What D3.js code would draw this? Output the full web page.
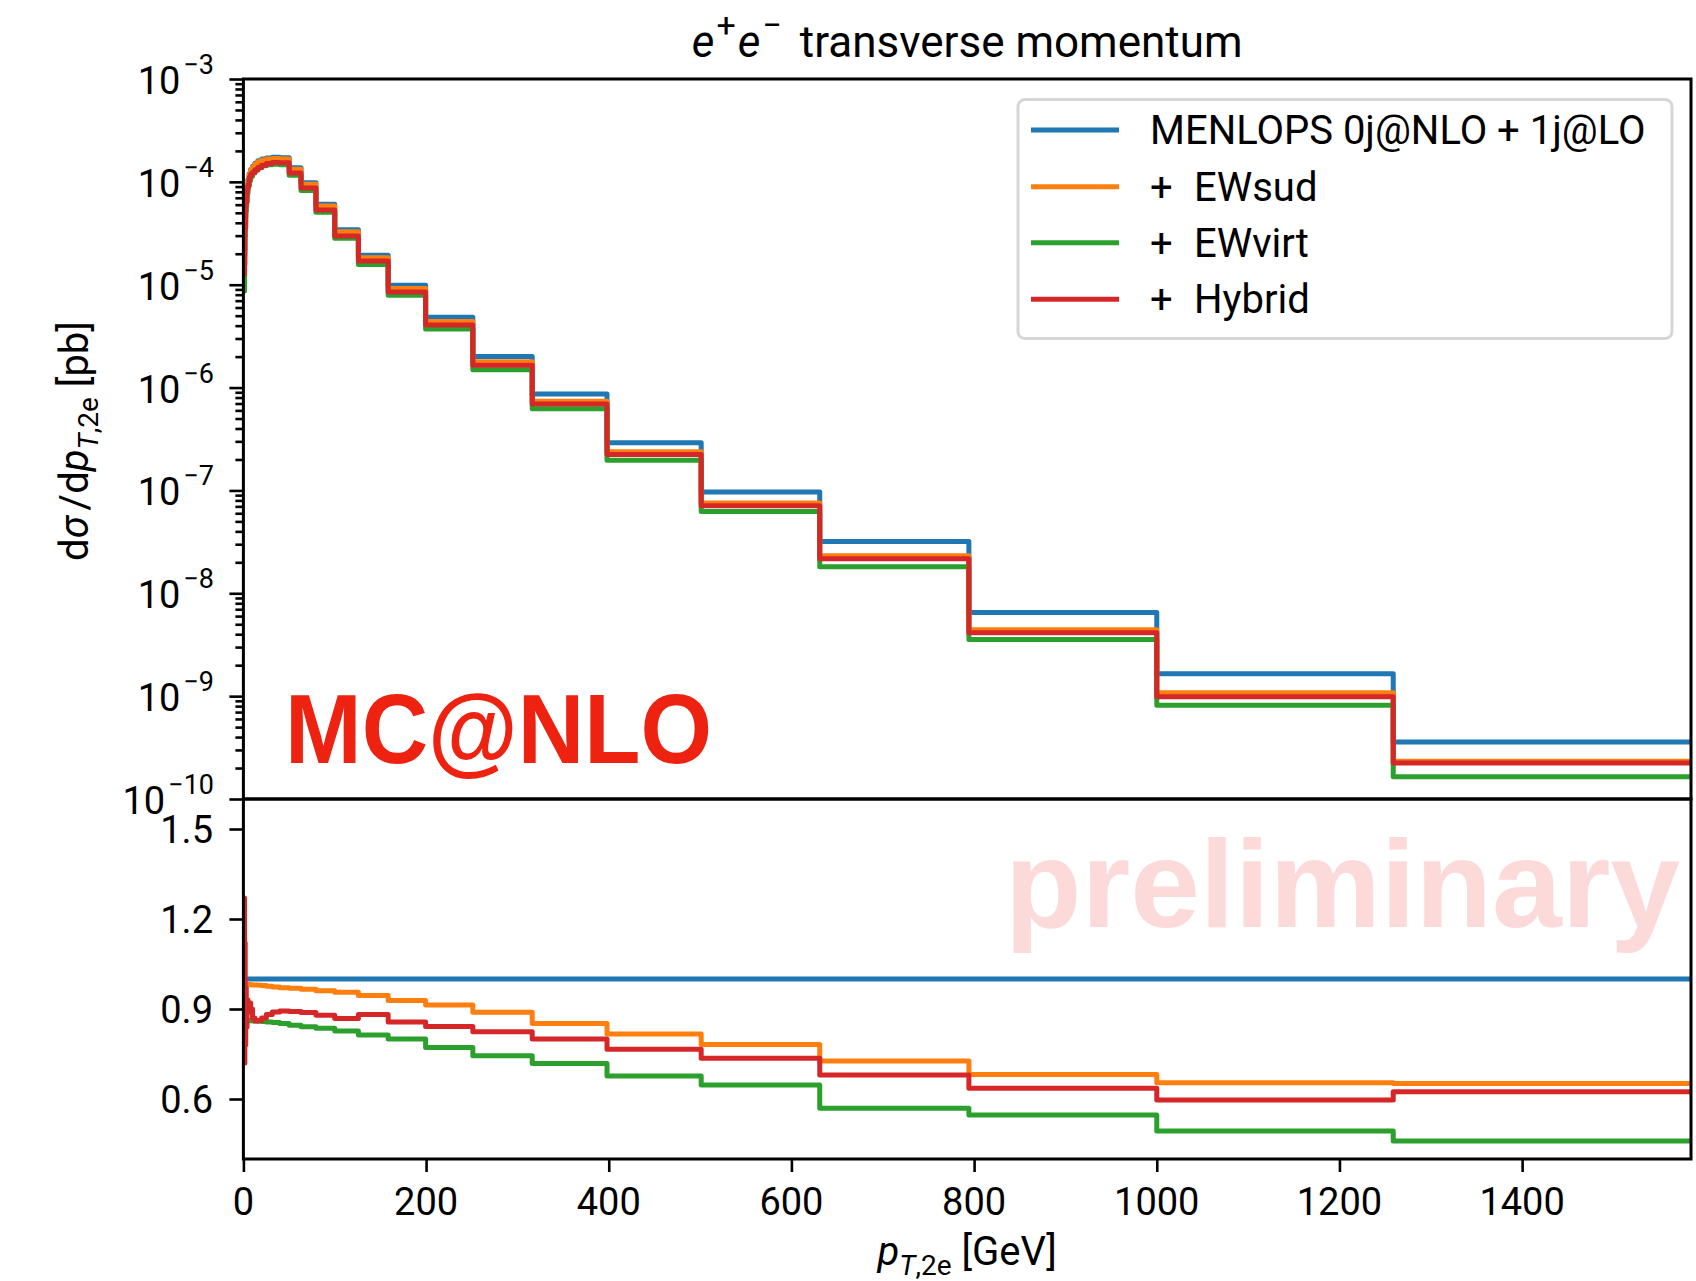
<!DOCTYPE html>
<html>
<head>
<meta charset="utf-8">
<script src="https://cdn.jsdelivr.net/npm/d3@7/dist/d3.min.js"></script>
<style>
body { margin: 0; background: #fff; }
svg text { font-family: Roboto, "DejaVu Sans", sans-serif; fill: #000; }
</style>
</head>
<body>
<div id="graphic"></div>
<script>
// bin edges in GeV (0.1 dex wide)
var edges = [1, 1.259, 1.585, 1.995, 2.512, 3.162, 3.981, 5.012, 6.310, 7.943,
  10, 12.59, 15.85, 19.95, 25.12, 31.62, 39.81, 50.12, 63.10, 79.43,
  100, 125.9, 158.5, 199.5, 251.2, 316.2, 398.1, 501.2, 631.0, 794.3,
  1000, 1258.9, 1584.9];

// dsigma/dpT of the reference MENLOPS prediction [pb/GeV]
var menlops = [1.0e-5, 2.2e-5, 3.4e-5, 4.6e-5, 6.0e-5, 7.5e-5, 9.0e-5, 1.05e-4, 1.2e-4, 1.32e-4,
  1.42e-4, 1.52e-4, 1.6e-4, 1.67e-4, 1.71e-4, 1.73e-4, 1.72e-4, 1.37e-4, 9.8e-5, 6.05e-5,
  3.43e-5, 1.93e-5, 9.9e-6, 4.82e-6, 2.0e-6, 8.66e-7, 2.91e-7, 9.66e-8, 3.18e-8, 6.49e-9,
  1.65e-9, 3.58e-10];

// ratios to MENLOPS
var ewsud = [0.995, 0.99, 0.987, 0.985, 0.985, 0.984, 0.983, 0.982, 0.982, 0.981,
  0.980, 0.980, 0.979, 0.978, 0.976, 0.973, 0.971, 0.969, 0.966, 0.961,
  0.956, 0.945, 0.928, 0.913, 0.889, 0.852, 0.817, 0.782, 0.727, 0.682,
  0.654, 0.652];
var ewvirt = [0.87, 0.868, 0.866, 0.865, 0.864, 0.863, 0.862, 0.862, 0.861, 0.861,
  0.860, 0.860, 0.859, 0.858, 0.857, 0.855, 0.852, 0.846, 0.841, 0.836,
  0.827, 0.813, 0.800, 0.772, 0.744, 0.718, 0.677, 0.647, 0.569, 0.547,
  0.493, 0.460];
var hybrid = [1.27, 0.72, 1.12, 0.78, 0.97, 0.84, 0.93, 0.89, 0.92, 0.90,
  0.87, 0.86, 0.862, 0.87, 0.882, 0.890, 0.893, 0.892, 0.888, 0.879,
  0.868, 0.882, 0.857, 0.842, 0.824, 0.800, 0.766, 0.736, 0.680, 0.636,
  0.597, 0.624];

var names = ["MENLOPS 0j@NLO + 1j@LO", "EWsud", "EWvirt", "Hybrid"];
var colors = ["#1f77b4", "#ff7f0e", "#2ca02c", "#d62728"];

var xTicks = [0, 200, 400, 600, 800, 1000, 1200, 1400];
var logExponents = [-3, -4, -5, -6, -7, -8, -9, -10];
var ratioTicks = [0.6, 0.9, 1.2, 1.5];
var xRange = [0, 1584.9];
var yRange = [1e-10, 1e-3];
var ratioRange = [0.4, 1.6];

var W = 1696, H = 1281;
var left = 243.4, right = 1691, top1 = 79, mid = 799, bot = 1159;
var lw = 5;

var svg = d3.select("#graphic").append("svg").attr("width", W).attr("height", H);

var x = d3.scaleLinear().domain(xRange).range([left, right]);
var y = d3.scaleLog().domain(yRange).range([mid, top1]);
var r = d3.scaleLinear().domain(ratioRange).range([bot, mid]);

var defs = svg.append("defs");
defs.append("clipPath").attr("id", "clipTop").append("rect")
  .attr("x", left).attr("y", top1).attr("width", right - left).attr("height", mid - top1);
defs.append("clipPath").attr("id", "clipBot").append("rect")
  .attr("x", left).attr("y", mid).attr("width", right - left).attr("height", bot - mid);

var ratios = [menlops.map(function() { return 1; }), ewsud, ewvirt, hybrid];
var series = ratios.map(function(rat, s) {
  return {
    color: colors[s],
    abs: menlops.map(function(v, i) { return v * rat[i]; }),
    rat: rat
  };
});

function stepPoints(vals) {
  return edges.map(function(e, i) { return [e, vals[Math.min(i, vals.length - 1)]]; });
}

var lineTop = d3.line().curve(d3.curveStepAfter)
  .x(function(d) { return x(d[0]); }).y(function(d) { return y(d[1]); });
var lineBot = d3.line().curve(d3.curveStepAfter)
  .x(function(d) { return x(d[0]); }).y(function(d) { return r(d[1]); });

// watermark
svg.append("text").attr("x", 1005).attr("y", 927)
  .attr("textLength", 675).attr("lengthAdjust", "spacingAndGlyphs")
  .style("font-family", "'Liberation Sans', Arial, sans-serif")
  .style("font-weight", "bold").style("font-size", "125px")
  .style("fill", "#fcdada").text("preliminary");

var gTop = svg.append("g").attr("clip-path", "url(#clipTop)");
var gBot = svg.append("g").attr("clip-path", "url(#clipBot)");

series.forEach(function(s) {
  gTop.append("path").attr("d", lineTop(stepPoints(s.abs)))
    .attr("fill", "none").attr("stroke", s.color).attr("stroke-width", lw)
    .attr("stroke-linejoin", "round").attr("stroke-linecap", "round");
  gBot.append("path").attr("d", lineBot(stepPoints(s.rat)))
    .attr("fill", "none").attr("stroke", s.color).attr("stroke-width", lw)
    .attr("stroke-linejoin", "round").attr("stroke-linecap", "round");
});

// frames
[[top1, mid], [mid, bot]].forEach(function(p) {
  svg.append("rect").attr("x", left).attr("y", p[0])
    .attr("width", right - left).attr("height", p[1] - p[0])
    .attr("fill", "none").attr("stroke", "#000").attr("stroke-width", 3);
});

function styleAxis(g) {
  g.select(".domain").remove();
  g.selectAll("line").attr("stroke", "#000").attr("stroke-width", 2.6);
}

// log axis ticks
var minor = [];
for (var e = -10; e < -3; e++) {
  for (var m = 2; m < 10; m++) minor.push(m * Math.pow(10, e));
}
svg.append("g").attr("transform", "translate(" + left + ",0)")
  .call(d3.axisLeft(y).tickValues(logExponents.map(function(k) { return Math.pow(10, k); }))
    .tickSize(14).tickSizeOuter(0).tickFormat(""))
  .call(styleAxis);
svg.append("g").attr("transform", "translate(" + left + ",0)")
  .call(d3.axisLeft(y).tickValues(minor).tickSize(8).tickSizeOuter(0).tickFormat(""))
  .call(styleAxis);

logExponents.forEach(function(k) {
  var t = svg.append("text").attr("x", 214).attr("y", y(Math.pow(10, k)) + 15)
    .attr("text-anchor", "end").style("font-size", "38px");
  t.append("tspan").text("10");
  t.append("tspan").attr("dx", 3).attr("dy", -20).style("font-size", "27px").text("\u2212" + (-k));
});

// ratio axis
svg.append("g").attr("transform", "translate(" + left + ",0)")
  .call(d3.axisLeft(r).tickValues(ratioTicks).tickSize(14).tickSizeOuter(0).tickFormat(""))
  .call(styleAxis);
ratioTicks.forEach(function(v) {
  svg.append("text").attr("x", 213).attr("y", r(v) + 13.5)
    .attr("text-anchor", "end").style("font-size", "38px").text(d3.format(".1f")(v));
});

// x axis
svg.append("g").attr("transform", "translate(0," + bot + ")")
  .call(d3.axisBottom(x).tickValues(xTicks).tickSize(13).tickSizeOuter(0).tickFormat(""))
  .call(styleAxis);
xTicks.forEach(function(v) {
  svg.append("text").attr("x", x(v)).attr("y", 1215)
    .attr("text-anchor", "middle").style("font-size", "38px").text(v);
});

// title
var title = svg.append("text").attr("x", (left + right) / 2).attr("y", 57)
  .attr("text-anchor", "middle").style("font-size", "44px");
title.append("tspan").style("font-style", "italic").text("e");
title.append("tspan").attr("dx", 2).attr("dy", -20).style("font-size", "34px").text("+");
title.append("tspan").attr("dx", 2).attr("dy", 20).style("font-style", "italic").text("e");
title.append("tspan").attr("dx", 2).attr("dy", -20).style("font-size", "34px").text("\u2212");
title.append("tspan").attr("dy", 20).attr("dx", 18).text("transverse momentum");

// y label
var yl = svg.append("text").attr("transform", "translate(88,441) rotate(-90)")
  .attr("text-anchor", "middle").style("font-size", "40px");
yl.append("tspan").text("d");
yl.append("tspan").style("font-style", "italic").text("\u03c3");
yl.append("tspan").attr("dx", 6).text("/d");
yl.append("tspan").style("font-style", "italic").text("p");
yl.append("tspan").attr("dy", 10).style("font-size", "28px").style("font-style", "italic").text("T");
yl.append("tspan").style("font-size", "28px").text(",2e");
yl.append("tspan").attr("dy", -10).attr("dx", 10).text("[pb]");

// x label
var xl = svg.append("text").attr("x", (left + right) / 2).attr("y", 1265)
  .attr("text-anchor", "middle").style("font-size", "40px");
xl.append("tspan").style("font-style", "italic").text("p");
xl.append("tspan").attr("dy", 10).style("font-size", "28px").style("font-style", "italic").text("T");
xl.append("tspan").style("font-size", "28px").text(",2e");
xl.append("tspan").attr("dy", -10).attr("dx", 10).text("[GeV]");

// MC@NLO label
svg.append("text").attr("x", 285).attr("y", 763)
  .attr("textLength", 427).attr("lengthAdjust", "spacingAndGlyphs")
  .style("font-family", "'Liberation Sans', Arial, sans-serif")
  .style("font-weight", "bold").style("font-size", "98px")
  .style("fill", "#ee2210").text("MC@NLO");

// legend
var legend = svg.append("g");
legend.append("rect").attr("x", 1018).attr("y", 99.5).attr("width", 654).attr("height", 239)
  .attr("rx", 7).attr("fill", "#fff").attr("stroke", "#d6d6d6").attr("stroke-width", 3);
var rowY = [130, 186.7, 242.7, 299.3];
names.forEach(function(n, i) {
  legend.append("line").attr("x1", 1031).attr("x2", 1119).attr("y1", rowY[i]).attr("y2", rowY[i])
    .attr("stroke", colors[i]).attr("stroke-width", lw);
  if (i === 0) {
    legend.append("text").attr("x", 1150).attr("y", rowY[i] + 14).style("font-size", "40px").text(n);
  } else {
    legend.append("text").attr("x", 1150).attr("y", rowY[i] + 14).style("font-size", "40px").text("+");
    legend.append("text").attr("x", 1194).attr("y", rowY[i] + 14).style("font-size", "40px").text(n);
  }
});
</script>
</body>
</html>
